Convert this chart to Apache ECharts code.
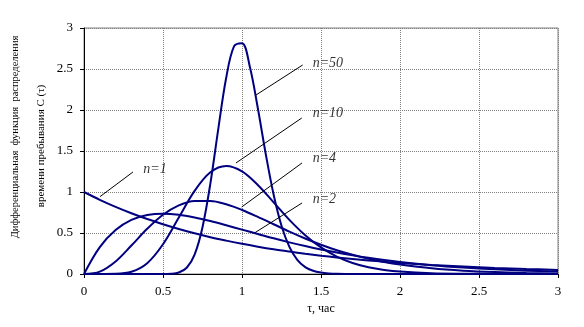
<!DOCTYPE html>
<html>
<head>
<meta charset="utf-8">
<script src="https://cdn.jsdelivr.net/npm/echarts@6/dist/echarts.min.js"></script>
<style>
html,body{margin:0;padding:0;background:#fff;}
#chart{width:584px;height:327px;}
</style>
</head>
<body>
<div id="chart"></div>
<script>
// ---- data ----
var thetaA = [0,0.1,0.2,0.3,0.4,0.5,0.6,0.7,0.8,0.9,1.0,1.1,1.2,1.3,1.4,1.5,1.6,1.7,1.8,1.9,2.0,2.2,2.4,2.6,2.8,3.0];
var n1  = [1,0.905,0.819,0.741,0.670,0.607,0.549,0.497,0.449,0.407,0.368,0.333,0.301,0.273,0.247,0.223,0.202,0.183,0.165,0.150,0.135,0.111,0.091,0.074,0.061,0.050];
var n2  = [0,0.328,0.536,0.659,0.719,0.736,0.723,0.690,0.646,0.595,0.541,0.488,0.435,0.386,0.341,0.299,0.261,0.227,0.197,0.170,0.147,0.108,0.079,0.057,0.041,0.030];
var n4  = [0,0.029,0.153,0.347,0.551,0.722,0.836,0.890,0.890,0.850,0.781,0.697,0.607,0.517,0.433,0.357,0.290,0.234,0.186,0.146,0.115,0.069,0.040,0.023,0.013,0.007];
var n10 = [0,0,0.002,0.027,0.132,0.363,0.688,1.014,1.241,1.317,1.251,1.085,0.874,0.660,0.473,0.324,0.213,0.135,0.083,0.050,0.029,0.009,0.003,0.001,0,0];
var thetaB = [0,0.5,0.55,0.6,0.65,0.7,0.75,0.8,0.85,0.9,0.95,1.0,1.05,1.1,1.15,1.2,1.25,1.3,1.35,1.4,1.45,1.5,1.55,1.6,1.7,3.0];
var n50 = [0,0.0004,0.003,0.018,0.076,0.237,0.571,1.106,1.771,2.393,2.778,2.815,2.524,2.024,1.467,0.969,0.588,0.330,0.172,0.084,0.039,0.017,0.007,0.003,0.0004,0];
var xTicks = [0,0.5,1,1.5,2,2.5,3];
var yTicks = [0,0.5,1,1.5,2,2.5,3];
var curveNames = ['n=1','n=2','n=4','n=10','n=50'];
var xTitle = 'τ, час';
var yTitle1 = 'Дифференциальная  функция  распределения';
var yTitle2 = 'времени пребывания C (τ)';

// annotation placement (data units): label anchor and leader line
var annotations = [
  {name:'n=50', at:[1.447,2.573], from:[1.384,2.549], to:[1.089,2.183]},
  {name:'n=10', at:[1.447,1.955], from:[1.378,1.902], to:[0.962,1.354]},
  {name:'n=4',  at:[1.447,1.415], from:[1.380,1.354], to:[0.998,0.817]},
  {name:'n=2',  at:[1.447,0.912], from:[1.380,0.866], to:[1.082,0.504]},
  {name:'n=1',  at:[0.375,1.272], from:[0.310,1.244], to:[0.101,0.943]}
];

function pairs(xs, ys){ return xs.map(function(x,i){ return [x, ys[i]]; }); }

var navy = '#000080';
var serif = '"Liberation Serif","Times New Roman",serif';

function curve(name, xs, ys){
  return {
    name:name, type:'line', data:pairs(xs,ys), showSymbol:false, symbol:'none',
    smooth:0.35, lineStyle:{color:navy, width:2}, itemStyle:{color:navy},
    silent:true, animation:false, clip:true
  };
}

var series = [
  curve(curveNames[0], thetaA, n1),
  curve(curveNames[1], thetaA, n2),
  curve(curveNames[2], thetaA, n4),
  curve(curveNames[3], thetaA, n10),
  curve(curveNames[4], thetaB, n50),
  {
    type:'scatter', symbolSize:0, silent:true, animation:false,
    data: annotations.map(function(a){ return {name:a.name, value:a.at}; }),
    label:{show:true, formatter:'{b}', position:'right', distance:0,
      color:'#000', fontFamily:serif, fontStyle:'italic', fontSize:14},
    markLine:{
      silent:true, symbol:['none','none'], animation:false,
      label:{show:false},
      lineStyle:{color:'#000', width:1, type:'solid'},
      data: annotations.map(function(a){ return [{coord:a.from},{coord:a.to}]; })
    }
  }
];

var chart = echarts.init(document.getElementById('chart'), null, {renderer:'canvas'});
chart.setOption({
  animation:false,
  backgroundColor:'#fff',
  grid:{left:84, right:26, top:28, bottom:53, show:true, borderColor:'#808080', borderWidth:1},
  xAxis:{
    type:'value', min:xTicks[0], max:xTicks[xTicks.length-1], interval:0.5,
    name:xTitle, nameLocation:'middle', nameGap:27,
    nameTextStyle:{fontFamily:serif, fontSize:12, color:'#000'},
    axisLine:{show:true, onZero:false, lineStyle:{color:'#000', width:1}},
    axisTick:{show:true, inside:false, length:4, lineStyle:{color:'#000'}},
    axisLabel:{fontFamily:serif, fontSize:13, color:'#000', margin:11},
    splitLine:{show:true, lineStyle:{color:'#808080', type:'dotted', width:1}}
  },
  yAxis:{
    type:'value', min:yTicks[0], max:yTicks[yTicks.length-1], interval:0.5,
    axisLine:{show:true, onZero:false, lineStyle:{color:'#000', width:1}},
    axisTick:{show:true, inside:false, length:4, lineStyle:{color:'#000'}},
    axisLabel:{fontFamily:serif, fontSize:13, color:'#000', margin:11},
    splitLine:{show:true, lineStyle:{color:'#808080', type:'dotted', width:1}}
  },
  graphic:[
    {type:'text', x:15, y:137, rotation:Math.PI/2,
      style:{text:yTitle1, fontFamily:serif, fontSize:10.5, fill:'#000', align:'center', verticalAlign:'middle'}},
    {type:'text', x:41, y:146, rotation:Math.PI/2,
      style:{text:yTitle2, fontFamily:serif, fontSize:11, fill:'#000', align:'center', verticalAlign:'middle'}}
  ],
  series:series
});
</script>
</body>
</html>
